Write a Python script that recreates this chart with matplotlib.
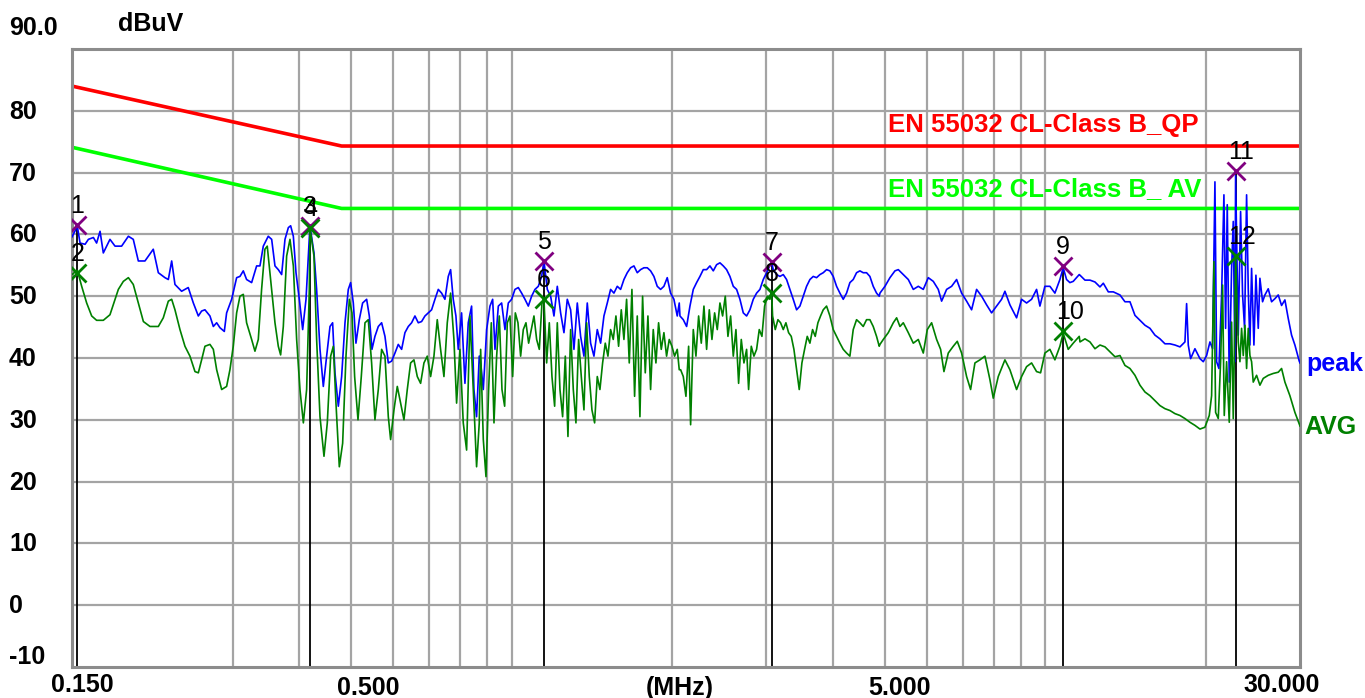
import matplotlib
matplotlib.use("Agg")
import matplotlib.pyplot as plt
from matplotlib import transforms

plt.rcParams['font.family'] = ['Liberation Sans', 'DejaVu Sans']

# limit lines (MHz, dBuV)
qp_freq = [0.15, 0.48, 30.0]
qp_level = [84.0, 74.3, 74.3]
av_freq = [0.15, 0.48, 30.0]
av_level = [74.1, 64.2, 64.2]

# peak trace
peak_freq = [
    0.150, 0.1535, 0.1553, 0.1587, 0.1610, 0.1645, 0.1668, 0.1693, 0.1717, 0.1742, 0.1767,
    0.1806, 0.1858, 0.1913, 0.1954, 0.1997, 0.2055, 0.2130, 0.2177, 0.2240, 0.2273,
    0.2306, 0.2339, 0.2407, 0.2477, 0.2532, 0.2587, 0.2624, 0.2662, 0.2720, 0.2760,
    0.2800, 0.2840, 0.2894, 0.2923, 0.2987, 0.3052, 0.3096, 0.3141, 0.3186, 0.3256,
    0.3327, 0.3375, 0.3424, 0.3498,
    0.3550, 0.3601, 0.3653, 0.3706, 0.3760, 0.3815, 0.3853, 0.3898, 0.3943, 0.4000,
    0.4058, 0.4117, 0.4176, 0.4188, 0.4261, 0.4310, 0.4373, 0.4436, 0.4500, 0.4566,
    0.4618, 0.4665, 0.4733, 0.4801, 0.4871, 0.4941, 0.4991, 0.5049, 0.5107, 0.5181,
    0.5256, 0.5348, 0.5410, 0.5472, 0.5543, 0.5624, 0.5705, 0.5788, 0.5872, 0.5957,
    0.6043, 0.6130, 0.6219, 0.6309, 0.6401, 0.6493, 0.6587, 0.6683, 0.6779, 0.6878,
    0.6977, 0.7078, 0.7181, 0.7285, 0.7390, 0.7497, 0.7606, 0.7683, 0.7771, 0.7861,
    0.7941, 0.8056, 0.8173, 0.8291, 0.8411, 0.8496, 0.8594, 0.8694,
    0.8721, 0.8847, 0.8975, 0.9105, 0.9211, 0.9304, 0.9439, 0.9575, 0.9714, 0.9855,
    0.9998, 1.0142, 1.0289, 1.0438, 1.0589, 1.0743, 1.0898, 1.1056, 1.1216, 1.1379,
    1.1494, 1.1660, 1.1829, 1.2000, 1.2174, 1.2350, 1.2529, 1.2710, 1.2895, 1.3081,
    1.3271, 1.3463, 1.3658, 1.3855, 1.4056, 1.4260, 1.4466, 1.4676, 1.4888, 1.5104,
    1.5322, 1.5544, 1.5769, 1.5998, 1.6229, 1.6464, 1.6703, 1.6945, 1.7190, 1.7439,
    1.7692, 1.7948, 1.8208, 1.8471, 1.8738, 1.9010, 1.9285, 1.9564, 1.9848, 2.0135,
    2.0427, 2.0604,
    2.0667, 2.0966, 2.1270, 2.1578, 2.1890, 2.2207, 2.2529, 2.2855, 2.3186, 2.3522,
    2.3863, 2.4208, 2.4559, 2.4915, 2.5275, 2.5641, 2.6013, 2.6390, 2.6772, 2.7160,
    2.7553, 2.7952, 2.8356, 2.8767, 2.9184, 2.9606, 3.0035, 3.0470, 3.069, 3.0911,
    3.1358, 3.1813, 3.2273, 3.2740, 3.3214, 3.3695, 3.4184, 3.4678, 3.5181, 3.5690,
    3.6207, 3.6731, 3.7263, 3.7803, 3.8350, 3.8905, 3.9469, 4.0040, 4.0620, 4.1209,
    4.1806, 4.2411, 4.3024, 4.3647, 4.4279, 4.4921, 4.5571, 4.6231, 4.6900, 4.7580,
    4.8269, 4.8827,
    4.8983, 5.0052, 5.1143, 5.2258, 5.3014, 5.4171, 5.5352, 5.6559, 5.7792, 5.9052,
    6.0339, 6.1654, 6.2998, 6.3911, 6.5304, 6.6728, 6.8183, 6.9669, 7.1187, 7.2738,
    7.4324, 7.5945, 7.7599, 7.9291, 8.1021, 8.2786, 8.3985, 8.5816, 8.8318, 9.0244,
    9.2211, 9.4222, 9.6276, 9.7671, 9.9801, 10.198, 10.420, 10.647, 10.80, 10.957,
    11.116, 11.277, 11.573,
    11.610, 11.863, 12.122, 12.386, 12.656, 12.840, 13.120, 13.406, 13.797, 14.097,
    14.405, 14.719, 15.040, 15.368, 15.703, 16.045, 16.395, 16.752, 17.117, 17.490,
    17.872, 18.261, 18.393, 18.525, 18.713, 19.066, 19.482, 19.764, 20.050, 20.340,
    20.575, 20.784, 20.934, 21.145, 21.390, 21.606, 21.762, 21.919, 22.109, 22.333,
    22.494, 22.656, 22.72, 22.985, 23.217, 23.418, 23.621, 23.826, 23.997, 24.170,
    24.345, 24.591, 24.804, 25.055, 25.235, 25.527, 25.785, 26.159, 26.538, 26.922,
    27.312, 27.708, 28.109, 28.516, 28.929, 29.347, 29.901, 30.0,
]
peak_level = [
    59.6, 61.3, 58.6, 58.4, 59.2, 59.5, 58.6, 60.5, 57.0, 58.1, 59.2,
    58.1, 58.1, 59.7, 59.2, 55.7, 55.7, 57.6, 53.8, 53.0, 52.7,
    55.7, 51.9, 50.8, 51.4, 48.9, 46.8, 47.6, 47.8, 46.8, 45.1,
    45.7, 44.9, 44.3, 47.3, 49.5, 53.0, 53.2, 54.1, 52.7, 52.2,
    54.9, 54.9, 58.1, 59.7,
    59.2, 54.9, 54.3, 53.5, 59.2, 61.1, 61.4, 59.7, 53.8, 49.5,
    44.6, 49.5, 59.2, 61.4, 57.0, 51.1, 41.4, 35.4, 40.3, 45.1,
    45.7, 37.6, 32.2, 37.0, 45.7, 51.1, 52.2, 48.9, 42.4, 46.2,
    48.9, 49.5, 46.8, 41.4, 43.5, 45.1, 45.7, 43.5, 39.2, 39.5,
    40.8, 42.2, 41.4, 44.1, 45.1, 45.7, 46.8, 45.7, 45.9, 46.8,
    47.3, 47.8, 49.5, 51.1, 50.5, 49.5, 53.2, 54.3, 49.5, 46.8,
    41.4, 47.3, 35.9, 45.7, 48.4, 34.9, 30.5, 40.3,
    40.3, 34.9, 44.6, 48.4, 49.5, 41.4, 48.4, 48.9, 44.6, 48.9,
    49.5, 51.1, 51.4, 50.5, 49.5, 48.4, 50.0, 51.1, 51.6, 53.2,
    55.7, 51.1, 50.0, 46.8, 51.6, 47.3, 44.1, 49.5, 47.8, 41.4,
    48.9, 43.5, 40.3, 48.9, 42.4, 40.3, 44.6, 42.4, 46.8, 48.9,
    51.1, 50.5, 51.6, 51.1, 52.7, 53.8, 54.6, 54.9, 53.8, 54.3,
    54.6, 54.6, 54.1, 53.2, 51.6, 51.1, 51.6, 53.0, 50.5, 49.5,
    46.8, 48.9,
    46.8, 46.2, 45.1, 48.4, 51.1, 52.2, 53.2, 54.3, 54.3, 54.9,
    54.1, 55.1, 55.4, 54.9, 54.3, 53.2, 51.6, 51.1, 49.5, 47.3,
    46.8, 47.8, 49.5, 50.5, 51.1, 52.7, 53.8, 55.0, 55.5, 54.3,
    53.5, 53.2, 53.5, 52.7, 51.1, 49.5, 47.8, 48.4, 50.0, 51.6,
    52.7, 53.2, 53.0, 53.5, 53.8, 54.3, 54.1, 53.2, 51.6, 50.5,
    49.5, 50.5, 52.2, 52.7, 53.8, 54.1, 53.8, 53.8, 53.2, 51.6,
    50.5, 50.0,
    50.5, 51.6, 53.0, 54.1, 54.3, 53.5, 52.7, 51.1, 51.6, 51.1,
    53.0, 52.4, 51.1, 49.2, 51.1, 51.6, 52.7, 50.5, 49.2, 47.8,
    51.1, 50.0, 48.6, 47.3, 48.4, 49.5, 50.8, 48.6, 46.5, 49.5,
    48.9, 49.5, 51.1, 48.4, 51.6, 51.6, 50.5, 52.7, 54.6, 52.7,
    52.2, 52.4, 53.5,
    53.4, 52.6, 52.6, 52.3, 51.5, 52.1, 50.7, 50.7, 50.2, 49.1,
    49.1, 46.9, 46.1, 45.3, 44.8, 43.7, 43.1, 42.3, 42.3, 42.1,
    41.8, 42.6, 48.8, 42.1, 39.9, 41.5, 39.9, 39.4, 40.4, 42.6,
    41.5, 68.5, 39.4, 38.3, 50.2, 66.4, 44.8, 64.8, 36.1, 54.5,
    62.1, 39.4, 69.5, 43.7, 63.7, 50.2, 44.8, 66.4, 51.2, 42.1,
    54.5, 42.1, 53.4, 44.8, 52.9, 49.1, 50.2, 51.2, 49.1, 49.6,
    50.2, 48.5, 49.4, 46.4, 43.7, 42.1, 39.5, 39.2,
]

# average trace
avg_freq = [
    0.150, 0.1535, 0.1564, 0.1598, 0.1633, 0.1668, 0.1717, 0.1767, 0.1832, 0.1872,
    0.1913, 0.1954, 0.1997, 0.2041, 0.2100, 0.2177, 0.2224, 0.2273, 0.2306, 0.2339,
    0.2390, 0.2442, 0.2495, 0.2550, 0.2587, 0.2624, 0.2662, 0.2720, 0.2760, 0.2800,
    0.2861, 0.2923, 0.2965, 0.3008, 0.3052, 0.3096, 0.3141, 0.3186, 0.3256, 0.3303,
    0.3351, 0.3399, 0.3448, 0.3483,
    0.3550, 0.3601, 0.3653, 0.3690, 0.3733, 0.3787, 0.3842, 0.3898, 0.3954, 0.4011,
    0.4070, 0.4128, 0.4176, 0.4188, 0.4261, 0.4310, 0.4373, 0.4449, 0.4513, 0.4579,
    0.4632, 0.4685, 0.4753, 0.4822, 0.4892, 0.4963, 0.5020, 0.5078, 0.5152, 0.5226,
    0.5310, 0.5386, 0.5464, 0.5543, 0.5624, 0.5705, 0.5788, 0.5872, 0.5931, 0.6017,
    0.6104, 0.6192, 0.6282, 0.6373, 0.6465, 0.6559, 0.6654, 0.6750, 0.6848, 0.6947,
    0.7048, 0.7150, 0.7253, 0.7358, 0.7465, 0.7573, 0.7683, 0.7794, 0.7884, 0.7998,
    0.8114, 0.8232, 0.8351, 0.8472, 0.8594, 0.8694,
    0.8746, 0.8847, 0.8950, 0.9053, 0.9158, 0.9264, 0.9371, 0.9479, 0.9589, 0.9700,
    0.9812, 0.9926, 1.0041, 1.0157, 1.0274, 1.0393, 1.0513, 1.0635, 1.0758, 1.0882,
    1.1008, 1.1136, 1.1265, 1.1395, 1.1494, 1.1627, 1.1761, 1.1897, 1.2035, 1.2174,
    1.2315, 1.2457, 1.2602, 1.2747, 1.2895, 1.3044, 1.3194, 1.3347, 1.3502, 1.3658,
    1.3816, 1.3975, 1.4137, 1.4301, 1.4466, 1.4633, 1.4803, 1.4974, 1.5147, 1.5322,
    1.5499, 1.5679, 1.5860, 1.6044, 1.6229, 1.6417, 1.6607, 1.6799, 1.6993, 1.7190,
    1.7389, 1.7590, 1.7794, 1.7999, 1.8208, 1.8418, 1.8631, 1.8847, 1.9065, 1.9285,
    1.9508, 1.9734, 1.9962, 2.0193, 2.0427, 2.0604,
    2.0727, 2.0966, 2.1208, 2.1455, 2.1640, 2.1890, 2.2143, 2.2400, 2.2659, 2.2921,
    2.3186, 2.3455, 2.3726, 2.4001, 2.4278, 2.4559, 2.4843, 2.5130, 2.5421, 2.5715,
    2.6013, 2.6313, 2.6618, 2.6926, 2.7238, 2.7553, 2.7791, 2.8113, 2.8438, 2.8767,
    2.9099, 2.9437, 2.9777, 3.0121, 3.0470, 3.069, 3.0822, 3.1178, 3.1539, 3.1904,
    3.2273, 3.2646, 3.3024, 3.3406, 3.3793, 3.4184, 3.4579, 3.4979, 3.5384, 3.5793,
    3.6207, 3.6625, 3.7049, 3.7478, 3.7911, 3.8350, 3.8905, 3.9469, 4.0040, 4.0620,
    4.1209, 4.1806, 4.2411, 4.3024, 4.3647, 4.4279, 4.4921, 4.5571, 4.6231, 4.6900,
    4.7580, 4.8269, 4.8827,
    4.8983, 4.9692, 5.0776, 5.1883, 5.2635, 5.3397, 5.4171, 5.5352, 5.6559, 5.7792,
    5.9052, 6.0079, 6.1213, 6.2547, 6.3636, 6.4558, 6.5775, 6.7210, 6.8379, 6.9669,
    7.1187, 7.2426, 7.3791, 7.5400, 7.7044, 7.8723, 7.9864, 8.1605, 8.3985, 8.5816,
    8.8318, 9.0244, 9.2211, 9.4222, 9.6276, 9.7952, 9.9801, 10.198, 10.420, 10.647,
    10.80, 11.036, 11.277, 11.573,
    11.610, 11.863, 12.122, 12.386, 12.656, 12.933, 13.214, 13.503, 13.797, 14.097,
    14.405, 14.719, 15.040, 15.368, 15.703, 16.045, 16.395, 16.752, 17.117, 17.490,
    17.872, 18.261, 18.659, 19.066, 19.482, 19.906, 20.282, 20.487, 20.694, 20.844,
    21.085, 21.298, 21.482, 21.637, 21.856, 22.109, 22.333, 22.494, 22.656, 22.72,
    22.985, 23.150, 23.317, 23.486, 23.655, 23.826, 23.997, 24.170, 24.345, 24.520,
    24.875, 25.235, 25.601, 26.159, 26.729, 27.312, 27.708, 28.109, 28.721, 29.347,
    29.901, 30.0,
]
avg_level = [
    53.5, 54.2, 51.6, 48.9, 46.8, 46.1, 46.1, 47.0, 51.1, 52.4,
    53.0, 51.9, 48.9, 45.9, 45.1, 45.1, 46.5, 49.2, 49.5, 47.8,
    44.6, 41.9, 40.3, 37.8, 37.6, 39.7, 41.9, 42.2, 41.4, 38.1,
    34.9, 35.4, 38.1, 41.9, 47.3, 50.0, 50.3, 45.7, 43.0, 41.1,
    43.0, 51.1, 57.6, 58.1,
    51.1, 45.7, 41.9, 40.5, 45.1, 56.5, 59.2, 54.9, 43.0, 34.9,
    29.5, 34.9, 51.1, 61.0, 56.5, 43.0, 30.5, 24.1, 29.5, 40.3,
    41.9, 32.7, 22.4, 26.2, 40.3, 49.5, 47.3, 37.0, 30.0, 37.0,
    45.7, 46.2, 39.2, 30.0, 34.9, 41.4, 40.3, 30.5, 26.8, 31.6,
    35.4, 32.7, 30.0, 34.9, 39.2, 39.7, 37.0, 35.9, 39.2, 40.3,
    37.0, 40.3, 46.2, 41.4, 37.0, 45.7, 50.5, 43.0, 32.7, 41.4,
    29.5, 25.1, 46.8, 34.9, 22.4, 29.5,
    41.4, 26.8, 20.8, 34.9, 45.7, 29.5, 40.3, 46.8, 34.9, 32.2,
    45.7, 46.8, 37.0, 47.3, 45.7, 40.3, 44.6, 45.7, 42.4, 44.6,
    46.8, 43.0, 41.4, 48.9, 49.5, 39.2, 45.7, 37.0, 32.2, 45.7,
    34.9, 30.5, 40.3, 27.3, 44.6, 34.9, 29.5, 43.0, 37.0, 31.6,
    45.7, 37.0, 31.6, 29.5, 37.0, 34.9, 39.2, 42.4, 40.3, 44.6,
    43.0, 46.8, 41.9, 47.8, 43.0, 49.5, 39.2, 51.1, 33.8, 46.8,
    30.5, 50.0, 37.6, 46.8, 34.9, 44.6, 39.2, 45.7, 41.4, 44.1,
    40.3, 43.0, 41.9, 40.3, 41.4, 38.1,
    38.1, 37.0, 33.8, 41.9, 29.2, 44.6, 40.3, 46.8, 42.4, 48.4,
    41.4, 47.8, 43.0, 47.3, 44.6, 48.9, 46.8, 50.0, 43.5, 46.8,
    40.3, 44.6, 35.9, 43.0, 39.2, 41.4, 34.9, 41.9, 40.3, 41.4,
    44.6, 43.5, 48.4, 50.0, 49.5, 50.8, 46.8, 44.6, 46.2, 45.7,
    44.6, 45.7, 44.1, 43.5, 41.4, 38.1, 34.9, 39.2, 41.4, 43.5,
    42.4, 44.6, 43.5, 45.7, 46.8, 47.8, 48.4, 46.8, 44.6, 43.5,
    42.4, 41.4, 40.8, 40.3, 44.6, 46.2, 45.7, 45.1, 46.2, 46.2,
    45.1, 43.5, 41.9,
    42.2, 43.0, 44.1, 45.7, 46.5, 45.1, 45.7, 44.1, 42.4, 43.0,
    40.8, 44.6, 45.7, 43.0, 41.4, 37.8, 40.8, 41.9, 42.7, 40.8,
    37.0, 34.9, 39.2, 39.7, 40.3, 36.5, 33.5, 37.0, 39.7, 38.1,
    34.9, 37.0, 38.6, 39.2, 37.8, 37.6, 40.8, 41.4, 39.7, 41.9,
    44.0, 41.4, 42.4, 43.5,
    42.6, 43.1, 42.6, 41.5, 42.1, 41.8, 41.0, 40.2, 40.4, 38.8,
    38.3, 37.2, 35.6, 34.5, 33.9, 33.1, 32.3, 31.8, 31.5, 31.0,
    30.7, 30.2, 29.6, 29.1, 28.5, 28.8, 30.7, 33.9, 55.6, 31.2,
    30.2, 39.4, 51.8, 30.7, 39.4, 29.6, 45.8, 30.2, 46.9, 56.6,
    42.6, 39.4, 44.8, 40.4, 45.3, 38.3, 44.8, 40.4, 39.4, 36.1,
    37.2, 35.6, 36.7, 37.2, 37.5, 37.7, 38.3, 36.1, 33.9, 31.2,
    29.3, 29.0,
]

# markers: number, frequency, level
marker_no = [1, 2, 3, 4, 5, 6, 7, 8, 9, 10, 11, 12]
marker_freq = [0.1535, 0.1535, 0.4188, 0.4188, 1.1494, 1.1494, 3.069, 3.069, 10.80, 10.80, 22.72, 22.72]
marker_level = [61.5, 53.8, 61.4, 61.0, 55.7, 49.5, 55.5, 50.5, 54.9, 44.3, 70.2, 56.5]

x_grid = [0.3, 0.4, 0.5, 0.6, 0.7, 0.8, 0.9, 1, 2, 3, 4, 5, 6, 7, 8, 9, 10, 20]
y_grid = [0, 10, 20, 30, 40, 50, 60, 70, 80]

fig = plt.figure(figsize=(13.65, 6.98), dpi=100)
ax = fig.add_axes([72 / 1365, 1 - 667 / 698, 1228 / 1365, 618 / 698])
ax.set_xscale('log')
ax.set_xlim(0.15, 30)
ax.set_ylim(-10, 90)
ax.set_xticks(x_grid)
ax.set_xticks([], minor=True)
ax.set_yticks(y_grid)
ax.tick_params(length=0, labelbottom=False, labelleft=False, which='both')
ax.grid(True, color='#a4a4a4', lw=1.6)
ax.set_axisbelow(True)
for s in ax.spines.values():
    s.set_color('#8c8c8c')
    s.set_linewidth(2.2)

# marker drop lines
peak_idx = [0, 2, 4, 6, 8, 10]
ax.vlines([marker_freq[i] for i in peak_idx], -10, [marker_level[i] for i in peak_idx],
          color='black', lw=1.3, zorder=1.5)

ax.plot(qp_freq, qp_level, color='#ff0000', lw=2.6, zorder=2)
ax.plot(av_freq, av_level, color='#00ff00', lw=2.6, zorder=2)

ax.plot(peak_freq, peak_level, color='#0000ff', lw=1.2, zorder=3)
ax.plot(avg_freq, avg_level, color='#008000', lw=1.2, zorder=3.5)

for n, f, v in zip(marker_no, marker_freq, marker_level):
    col = '#800080' if n % 2 == 1 else '#008000'
    ax.plot(f, v, marker='x', ms=13, mew=2, color=col, zorder=5)
    ax.annotate(str(n), (f, v), xytext=(-7, 12), textcoords='offset pixels',
                ha='left', va='baseline', fontsize=18, color='black', zorder=6)

ax.text(888 / 1365, 1 - 125 / 698, 'EN 55032 CL-Class B_QP', transform=fig.transFigure,
        color='#ff0000', fontsize=18.5, fontweight='bold', va='center', ha='left')
ax.text(888 / 1365, 1 - 189 / 698, 'EN 55032 CL-Class B_ AV', transform=fig.transFigure,
        color='#00ff00', fontsize=18.5, fontweight='bold', va='center', ha='left')
fig.text(1306 / 1365, 1 - 364 / 698, 'peak', color='#0000ff', fontsize=18,
         fontweight='bold', va='center', ha='left')
fig.text(1304 / 1365, 1 - 427 / 698, 'AVG', color='#008000', fontsize=18,
         fontweight='bold', va='center', ha='left')

# y axis labels
ylab_tr = transforms.blended_transform_factory(fig.transFigure, ax.transData)
for v in y_grid:
    ax.annotate(str(v), (9 / 1365, v), xycoords=ylab_tr, xytext=(0, -1),
                textcoords='offset pixels', ha='left', va='center',
                fontsize=18, fontweight='bold', annotation_clip=False)
ax.annotate('90.0', (9 / 1365, 90), xycoords=ylab_tr, xytext=(0, 21),
            textcoords='offset pixels', ha='left', va='center',
            fontsize=18, fontweight='bold', annotation_clip=False)
ax.annotate('-10', (9 / 1365, -10), xycoords=ylab_tr, xytext=(0, 10),
            textcoords='offset pixels', ha='left', va='center',
            fontsize=18, fontweight='bold', annotation_clip=False)
fig.text(118 / 1365, 1 - 31 / 698, 'dBuV', fontsize=18, fontweight='bold',
         ha='left', va='baseline')

# x axis labels
xlab_tr = transforms.blended_transform_factory(ax.transData, fig.transFigure)
for lab, f, dx, base in [('0.150', 0.15, 10, 692), ('0.500', 0.5, 17, 695),
                         ('5.000', 5.0, 15, 695), ('30.000', 30.0, -18, 692)]:
    ax.annotate(lab, (f, 1 - base / 698), xycoords=xlab_tr, xytext=(dx, 0),
                textcoords='offset pixels', ha='center', va='baseline',
                fontsize=18, fontweight='bold', annotation_clip=False)
fig.text(680 / 1365, 1 - 695 / 698, '(MHz)', fontsize=18, fontweight='bold',
         ha='center', va='baseline')

fig.savefig('out.png', dpi=100, facecolor='white')
